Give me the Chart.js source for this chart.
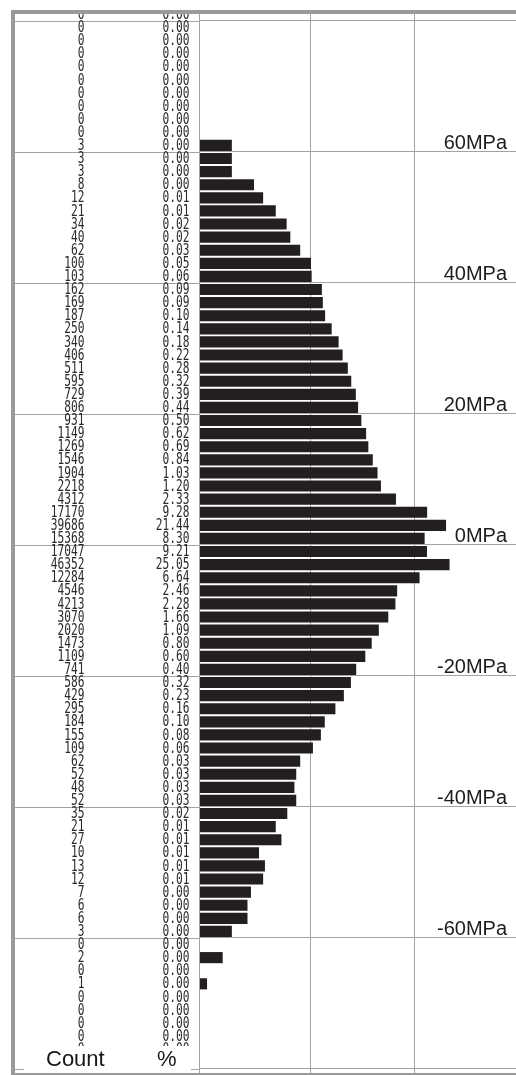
<!DOCTYPE html>
<html>
<head>
<meta charset="utf-8">
<script src="https://cdn.jsdelivr.net/npm/chart.js@4.4.1/dist/chart.umd.min.js"></script>
<style>
  html, body { margin: 0; padding: 0; background: #fff; overflow: hidden; }
  #wrap { position: relative; width: 516px; height: 1075px; }
</style>
</head>
<body>
<div id="wrap"><canvas id="hist"></canvas></div>
<script>
// Stress bins (MPa, bin centres, 2 MPa wide), top to bottom
const binCenters = [
  81, 79, 77, 75, 73, 71, 69, 67, 65, 63, 61,
  59, 57, 55, 53, 51, 49, 47, 45, 43, 41,
  39, 37, 35, 33, 31, 29, 27, 25, 23, 21,
  19, 17, 15, 13, 11, 9, 7, 5, 3, 1,
  -1, -3, -5, -7, -9, -11, -13, -15, -17, -19,
  -21, -23, -25, -27, -29, -31, -33, -35, -37, -39,
  -41, -43, -45, -47, -49, -51, -53, -55, -57, -59,
  -61, -63, -65, -67, -69, -71, -73, -75, -77, -79
];

// Number of samples in each bin
const counts = [
  0, 0, 0, 0, 0, 0, 0, 0, 0, 0, 3,
  3, 3, 8, 12, 21, 34, 40, 62, 100, 103,
  162, 169, 187, 250, 340, 406, 511, 595, 729, 806,
  931, 1149, 1269, 1546, 1904, 2218, 4312, 17170, 39686, 15368,
  17047, 46352, 12284, 4546, 4213, 3070, 2020, 1473, 1109, 741,
  586, 429, 295, 184, 155, 109, 62, 52, 48, 52,
  35, 21, 27, 10, 13, 12, 7, 6, 6, 3,
  0, 2, 0, 1, 0, 0, 0, 0, 0, 0
];

// Share of all samples in each bin (%)
const shares = [
  0.00, 0.00, 0.00, 0.00, 0.00, 0.00, 0.00, 0.00, 0.00, 0.00, 0.00,
  0.00, 0.00, 0.00, 0.01, 0.01, 0.02, 0.02, 0.03, 0.05, 0.06,
  0.09, 0.09, 0.10, 0.14, 0.18, 0.22, 0.28, 0.32, 0.39, 0.44,
  0.50, 0.62, 0.69, 0.84, 1.03, 1.20, 2.33, 9.28, 21.44, 8.30,
  9.21, 25.05, 6.64, 2.46, 2.28, 1.66, 1.09, 0.80, 0.60, 0.40,
  0.32, 0.23, 0.16, 0.10, 0.08, 0.06, 0.03, 0.03, 0.03, 0.03,
  0.02, 0.01, 0.01, 0.01, 0.01, 0.01, 0.00, 0.00, 0.00, 0.00,
  0.00, 0.00, 0.00, 0.00, 0.00, 0.00, 0.00, 0.00, 0.00, 0.00
];

// Horizontal rules every 20 MPa, labelled ones, and count grid lines
const gridPressures = [80, 60, 40, 20, 0, -20, -40, -60, -80];
const labelledPressures = [60, 40, 20, 0, -20, -40, -60];
const countGrid = [100, 10000];

const GRID = '#a3a3a3';
const FRAME = '#9a9a9a';
const BAR = '#231f20';

const tablePlugin = {
  id: 'stressTable',
  afterDraw(chart) {
    const ctx = chart.ctx;
    const ys = chart.scales.y;
    const area = chart.chartArea;
    const W = chart.width, H = chart.height;
    ctx.save();

    // rules continued across the table columns
    ctx.strokeStyle = GRID;
    ctx.lineWidth = 1;
    gridPressures.forEach(p => {
      const py = Math.round(ys.getPixelForValue(p)) + 0.5;
      ctx.beginPath();
      ctx.moveTo(15, py);
      ctx.lineTo(area.left, py);
      ctx.stroke();
    });

    // count and percentage columns
    ctx.save();
    ctx.beginPath();
    ctx.rect(15, 14, area.left - 15, H - 14);
    ctx.clip();
    const sx = 0.7;
    ctx.scale(sx, 1);
    ctx.font = '16px "DejaVu Sans Mono", "Liberation Mono", monospace';
    ctx.fillStyle = '#2a2a2a';
    ctx.textAlign = 'right';
    ctx.textBaseline = 'middle';
    binCenters.forEach((p, i) => {
      const py = ys.getPixelForValue(p) + 0.5;
      ctx.fillText(String(counts[i]), 84.5 / sx, py);
      ctx.fillText(shares[i].toFixed(2), 189.5 / sx, py);
    });
    ctx.restore();

    // column / plot separator
    ctx.beginPath();
    ctx.moveTo(Math.round(area.left) + 0.5, 14);
    ctx.lineTo(Math.round(area.left) + 0.5, H);
    ctx.stroke();

    // header box for the columns
    ctx.fillStyle = '#ffffff';
    ctx.fillRect(24, 1046, 167, 26);
    ctx.fillStyle = '#161616';
    ctx.font = '22px "Liberation Sans", Arial, sans-serif';
    ctx.textAlign = 'left';
    ctx.textBaseline = 'alphabetic';
    ctx.fillText('Count', 46, 1066);
    ctx.fillText('%', 157, 1066);

    // pressure labels
    ctx.font = '20px "Liberation Sans", Arial, sans-serif';
    ctx.textAlign = 'right';
    ctx.fillStyle = '#1c1c1c';
    labelledPressures.forEach(p => {
      const py = ys.getPixelForValue(p);
      ctx.fillText(p + 'MPa', 507, py - 3);
    });

    // outer frame
    ctx.fillStyle = FRAME;
    ctx.fillRect(11, 10, W - 11, 4);
    ctx.fillRect(11, 10, 4, H - 10);
    ctx.fillRect(11, H - 2, W - 11, 2);
    ctx.restore();
  }
};

const bars = binCenters.map((p, i) => ({ x: counts[i] > 0 ? counts[i] : null, y: p }));

new Chart(document.getElementById('hist'), {
  type: 'bar',
  data: {
    datasets: [{
      data: bars,
      backgroundColor: BAR,
      borderWidth: 0,
      barPercentage: 0.85,
      categoryPercentage: 1
    }]
  },
  options: {
    indexAxis: 'y',
    responsive: true,
    maintainAspectRatio: false,
    animation: false,
    layout: { padding: { left: 199, top: 13, right: 0, bottom: 0 } },
    plugins: { legend: { display: false }, tooltip: { enabled: false } },
    scales: {
      x: {
        type: 'logarithmic',
        min: 0.7,
        max: 880000,
        grid: { color: GRID, lineWidth: 1, drawTicks: false },
        border: { display: false },
        ticks: { display: false },
        afterBuildTicks: s => { s.ticks = countGrid.map(v => ({ value: v })); }
      },
      y: {
        type: 'linear',
        min: -80.92,
        max: 81.22,
        offset: false,
        grid: { color: GRID, lineWidth: 1, drawTicks: false, offset: false },
        border: { display: false },
        ticks: { display: false },
        afterBuildTicks: s => { s.ticks = gridPressures.map(v => ({ value: v })); }
      }
    }
  },
  plugins: [tablePlugin]
});
</script>
</body>
</html>
